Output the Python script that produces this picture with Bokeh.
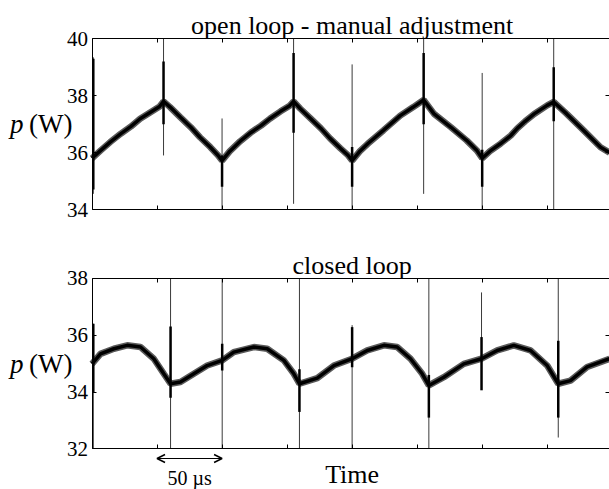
from bokeh.plotting import figure
from bokeh.models import Range1d, FixedTicker, LinearAxis, Label, Arrow, OpenHead
from bokeh.layouts import column
from bokeh.embed import file_html
from bokeh.resources import INLINE

# ---------------- data (time in microseconds, power in W) ----------------
t_top = [0, 6.5, 14, 22, 30, 37, 45, 52, 55, 60, 68, 76, 83, 91, 97, 100,
         106, 114, 122, 130, 137, 145, 152, 155, 160, 168, 176, 183, 191, 197, 200,
         206, 212, 224, 237, 247, 255, 263, 276, 288, 296, 300,
         306, 314, 322, 327, 333, 340, 350, 355, 365, 378, 391, 398]
p_top = [35.8, 36.07, 36.37, 36.66, 36.92, 37.19, 37.42, 37.62, 37.8, 37.6, 37.24, 36.89, 36.54, 36.19, 35.9, 35.72,
         36.05, 36.4, 36.7, 36.95, 37.2, 37.45, 37.65, 37.8, 37.55, 37.2, 36.85, 36.5, 36.15, 35.9, 35.72,
         36.05, 36.31, 36.78, 37.3, 37.6, 37.85, 37.36, 36.89, 36.43, 36.07, 35.8,
         36.05, 36.31, 36.6, 36.85, 37.1, 37.36, 37.66, 37.78, 37.36, 36.78, 36.19, 36.0]

spk_top_t = [1, 55, 100, 155, 200, 255, 300, 355]
spk_top_lo = [34.55, 35.9, 34.0, 34.2, 34.0, 34.55, 34.0, 34.0]
spk_top_hi = [39.35, 40.0, 37.2, 40.0, 39.1, 40.0, 38.8, 40.0]
core_top_lo = [34.7, 37.0, 34.8, 36.7, 34.8, 37.0, 34.8, 37.1]
core_top_hi = [39.3, 39.2, 35.9, 39.5, 36.2, 39.5, 36.1, 39.0]

t_bot = [0, 6.5, 16.8, 27, 37.3, 47.5, 55.2, 60.4, 68, 78.3, 88.6, 100.1,
         109, 124.4, 134.7, 147.5, 155.2, 159.5, 173.2, 186, 200,
         211.6, 224.4, 234.6, 244.9, 253.9, 259, 270.5, 285.9, 299.5,
         311.5, 324.3, 337.2, 350, 358.5, 367.9, 380.7, 398]
p_bot = [34.99, 35.34, 35.52, 35.64, 35.58, 35.17, 34.64, 34.29, 34.35, 34.64, 34.93, 35.11,
         35.4, 35.58, 35.52, 35.11, 34.64, 34.29, 34.49, 34.93, 35.17,
         35.46, 35.64, 35.58, 35.17, 34.64, 34.23, 34.52, 34.99, 35.17,
         35.46, 35.64, 35.46, 34.93, 34.29, 34.4, 34.88, 35.17]

spk_bot_t = [1, 60.4, 100.1, 159.5, 200, 259, 299.5, 358.5]
spk_bot_lo = [32.0, 32.0, 32.0, 32.0, 32.0, 32.0, 34.07, 32.4]
spk_bot_hi = [36.4, 38.0, 38.0, 38.0, 36.35, 38.0, 37.5, 38.0]
core_bot_lo = [34.0, 33.8, 34.76, 33.3, 34.87, 33.1, 34.06, 33.1]
core_bot_hi = [36.4, 36.3, 35.7, 34.8, 36.28, 34.6, 35.93, 35.8]

x_ticks = [0, 50, 100, 150, 200, 250, 300, 350]
y_ticks_top = [34, 36, 38, 40]
y_ticks_bot = [32, 34, 36, 38]

FONT = "Liberation Serif"
W = 609                # figure width (page is drawn from x = 0)
PX_PER_US = 1.3006     # horizontal scale
PX_PER_W = 28.45       # vertical scale
LEFT_PAD = 91.5        # px from figure left to time 0
X0 = -LEFT_PAD / PX_PER_US
X1 = (W - LEFT_PAD) / PX_PER_US
X_AX_END = 400


def make_panel(title, ylo, yhi, yticks, t, pw, st, slo, shi, clo, chi, height, pad_top):
    frame_h = (yhi - ylo) * PX_PER_W
    pad_bottom = height - pad_top - frame_h
    y0 = ylo - pad_bottom / PX_PER_W
    y1 = yhi + pad_top / PX_PER_W
    p = figure(width=W, height=height, x_range=Range1d(X0, X1), y_range=Range1d(y0, y1),
               output_backend="svg", toolbar_location=None, x_axis_type=None, y_axis_type=None,
               min_border_left=0, min_border_right=0, min_border_top=0, min_border_bottom=0)
    p.outline_line_color = None
    p.grid.visible = False
    p.background_fill_color = "white"
    p.border_fill_color = "white"

    def style(ax, labels):
        ax.axis_line_color = "black"
        ax.axis_line_width = 1
        ax.major_tick_in = 4
        ax.major_tick_out = 0
        ax.major_tick_line_color = "black"
        ax.minor_tick_line_color = None
        if labels:
            ax.major_label_text_font = FONT
            ax.major_label_text_font_size = "21px"
            ax.major_label_text_color = "black"
            ax.major_label_standoff = 4
        else:
            ax.major_label_text_color = None
            ax.major_label_standoff = 0

    left = LinearAxis(ticker=FixedTicker(ticks=yticks), fixed_location=0, bounds=(ylo, yhi))
    style(left, True)
    p.add_layout(left, "left")
    right = LinearAxis(ticker=FixedTicker(ticks=yticks), fixed_location=X1 - 0.2, bounds=(ylo, yhi))
    style(right, False)
    right.axis_line_color = None
    p.add_layout(right, "right")
    below = LinearAxis(ticker=FixedTicker(ticks=x_ticks), fixed_location=ylo, bounds=(0, X_AX_END))
    style(below, False)
    p.add_layout(below, "below")
    above = LinearAxis(ticker=FixedTicker(ticks=x_ticks), fixed_location=yhi, bounds=(0, X_AX_END))
    style(above, False)
    p.add_layout(above, "above")

    # noisy trace approximated by a thick band
    p.line(t, pw, line_color="#5a5a5a", line_width=6.5)
    p.line(t, pw, line_color="black", line_width=3.5)
    # switching spikes
    p.segment(x0=st, y0=slo, x1=st, y1=shi, line_color="#3a3a3a", line_width=1)
    p.segment(x0=st, y0=clo, x1=st, y1=chi, line_color="black", line_width=2.5)

    p.add_layout(Label(x=X_AX_END / 2, y=yhi, y_offset=13, text=title, text_align="center",
                       text_baseline="alphabetic", text_font=FONT, text_font_size="26px",
                       text_color="black"))
    ymid = (ylo + yhi) / 2
    p.add_layout(Label(x=0, y=ymid, x_offset=-82, text="p", text_align="left", text_baseline="middle",
                       text_font=FONT, text_font_style="italic", text_font_size="27px",
                       text_color="black"))
    p.add_layout(Label(x=0, y=ymid, x_offset=-63, text="(W)", text_align="left", text_baseline="middle",
                       text_font=FONT, text_font_size="27px", text_color="black"))
    return p


p1 = make_panel("open loop - manual adjustment", 34, 40, y_ticks_top, t_top, p_top,
                spk_top_t, spk_top_lo, spk_top_hi, core_top_lo, core_top_hi, 248, 38.3)
p2 = make_panel("closed loop", 32, 38, y_ticks_bot, t_bot, p_bot,
                spk_bot_t, spk_bot_lo, spk_bot_hi, core_bot_lo, core_bot_hi, 241, 29.7)

# 50 us scale arrow and time label
arrow_y = 32 - 9.6 / PX_PER_W
p2.add_layout(Arrow(x_start=x_ticks[1], y_start=arrow_y, x_end=x_ticks[2], y_end=arrow_y,
                    start=OpenHead(size=8, line_width=1.5, line_color="black"),
                    end=OpenHead(size=8, line_width=1.5, line_color="black"),
                    line_width=1.2, line_color="black"))
p2.add_layout(Label(x=(x_ticks[1] + x_ticks[2]) / 2, y=32, y_offset=-29.3, text="50 µs", text_align="center",
                    text_baseline="alphabetic", text_font=FONT, text_font_size="20px", text_color="black"))
p2.add_layout(Label(x=X_AX_END / 2, y=32, y_offset=-25.5, text="Time", text_align="center",
                    text_baseline="middle", text_font=FONT, text_font_size="26px", text_color="black"))

layout = column(p1, p2, spacing=0)
open("out.html", "w").write(file_html(layout, INLINE))
